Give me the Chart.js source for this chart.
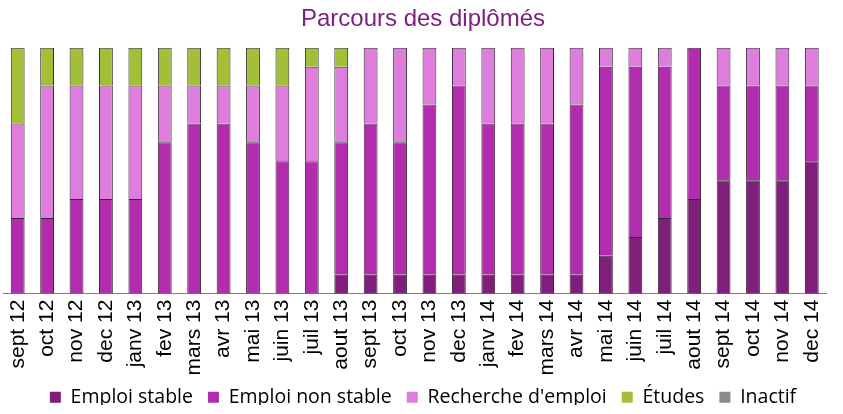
<!DOCTYPE html>
<html>
<head>
<meta charset="utf-8">
<script src="https://cdn.jsdelivr.net/npm/chart.js@4.4.1/dist/chart.umd.min.js"></script>
<style>
  html, body { margin: 0; padding: 0; background: #ffffff; }
  #wrap { width: 843px; height: 414px; position: relative; }
</style>
</head>
<body>
<div id="wrap"><canvas id="c"></canvas></div>
<script>
const categories = ["sept 12","oct 12","nov 12","dec 12","janv 13","fev 13","mars 13","avr 13","mai 13","juin 13","juil 13","aout 13","sept 13","oct 13","nov 13","dec 13","janv 14","fev 14","mars 14","avr 14","mai 14","juin 14","juil 14","aout 14","sept 14","oct 14","nov 14","dec 14"];
const emploiStable    = [0,0,0,0,0,0,0,0,0,0,0,1,1,1,1,1,1,1,1,1,2,3,4,5,6,6,6,7];
const emploiNonStable = [4,4,5,5,5,8,9,9,8,7,7,7,8,7,9,10,8,8,8,9,10,9,8,8,5,5,5,4];
const rechercheEmploi = [5,7,6,6,6,3,2,2,3,4,5,4,4,5,3,2,4,4,4,3,1,1,1,0,2,2,2,2];
const etudes          = [4,2,2,2,2,2,2,2,2,2,1,1,0,0,0,0,0,0,0,0,0,0,0,0,0,0,0,0];
const inactif         = [0,0,0,0,0,0,0,0,0,0,0,0,0,0,0,0,0,0,0,0,0,0,0,0,0,0,0,0];
const seriesNames = ["Emploi stable","Emploi non stable","Recherche d'emploi","Études","Inactif"];
const seriesColors = ["#7E1F7A","#B22DAE","#DE7EDC","#A3BF38","#8A8A8A"];
const totalCount = 13;

const seriesData = [emploiStable, emploiNonStable, rechercheEmploi, etudes, inactif];
const datasets = seriesNames.map((name, i) => ({
  label: name,
  data: seriesData[i],
  backgroundColor: seriesColors[i],
  borderColor: 'rgba(20,0,20,0.85)',
  borderWidth: {top: 1, left: 1, right: 1, bottom: 0},
  borderSkipped: false,
  barPercentage: 0.47,
  categoryPercentage: 1.0
}));

// Legend layout tweak: shrink reserved height, then lift the legend so it sits closer to the axis labels
const LEGEND_REDUCE = 12;
const LEGEND_SHIFT = 9;
const legendTweak = {
  id: 'legendTweak',
  beforeLayout(chart) {
    const lg = chart.legend;
    if (lg && !lg._tweaked) {
      const origFit = lg.fit;
      lg.fit = function () {
        origFit.call(this);
        this.height = Math.max(0, this.height - LEGEND_REDUCE);
      };
      lg._tweaked = true;
    }
  },
  afterLayout(chart) {
    const lg = chart.legend;
    if (lg) { lg.top -= LEGEND_SHIFT; lg.bottom -= LEGEND_SHIFT; }
  }
};

new Chart(document.getElementById('c'), {
  type: 'bar',
  data: { labels: categories, datasets: datasets },
  plugins: [legendTweak],
  options: {
    responsive: true,
    maintainAspectRatio: false,
    animation: false,
    layout: { padding: { left: 3, right: 0, top: 0, bottom: 0 } },
    plugins: {
      title: {
        display: true,
        text: 'Parcours des diplômés',
        color: '#7E1F80',
        font: { family: 'Liberation Sans, Arial, sans-serif', size: 24, weight: 'normal' },
        padding: { top: 5, bottom: 14 }
      },
      legend: {
        position: 'bottom',
        labels: {
          boxWidth: 11,
          boxHeight: 11,
          padding: 15,
          color: '#404040',
          font: { family: 'Open Sans, sans-serif', size: 19.5 },
          generateLabels: (chart) => chart.data.datasets.map((ds, i) => ({
            text: ds.label,
            fillStyle: ds.backgroundColor,
            strokeStyle: ds.backgroundColor,
            lineWidth: 0,
            hidden: false,
            datasetIndex: i
          }))
        }
      },
      tooltip: { enabled: false }
    },
    scales: {
      x: {
        stacked: true,
        grid: { display: false, drawTicks: false },
        border: { display: true, color: '#7F7F7F', width: 1 },
        ticks: {
          color: '#000000',
          minRotation: 90,
          maxRotation: 90,
          autoSkip: false,
          padding: 6,
          font: { family: 'Liberation Sans, Arial, sans-serif', size: 21 }
        }
      },
      y: {
        stacked: true,
        display: false,
        min: 0,
        max: totalCount
      }
    }
  }
});
</script>
</body>
</html>
